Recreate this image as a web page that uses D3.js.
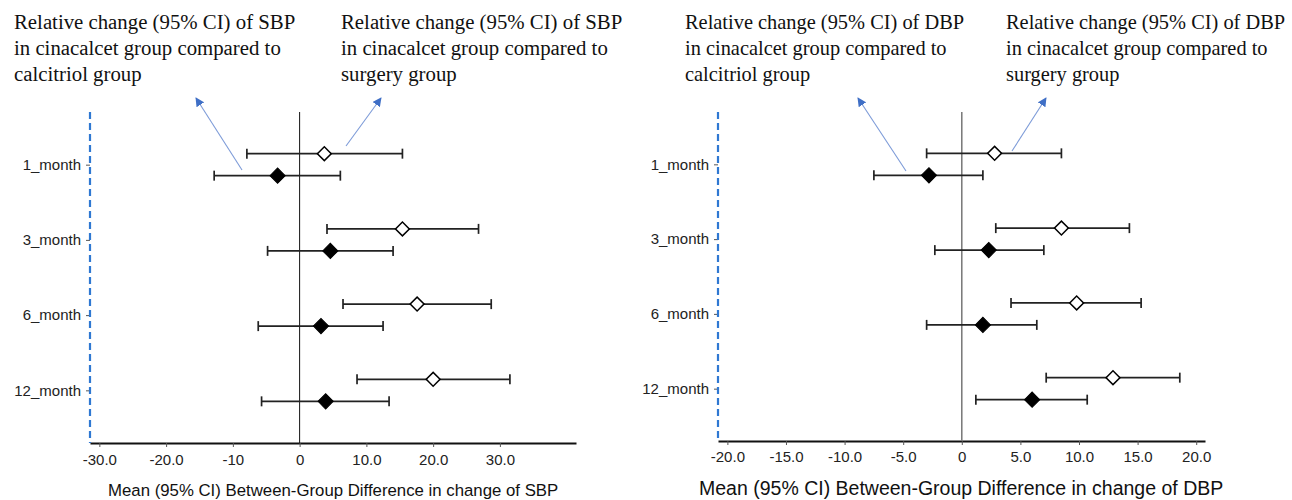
<!DOCTYPE html>
<html>
<head>
<meta charset="utf-8">
<script src="https://cdn.jsdelivr.net/npm/d3@7"></script>
<style>
  html, body { margin: 0; padding: 0; background: #fff; }
  svg { display: block; }
</style>
</head>
<body>
<svg id="chart" width="1292" height="500"></svg>
<script>
// ---------------- DATA ----------------
const categories = ["1_month", "3_month", "6_month", "12_month"];

// SBP: cinacalcet vs calcitriol (filled diamonds)
const sbpCalMean  = [-3.3, 4.6, 3.2, 3.9];
const sbpCalLower = [-12.8, -4.8, -6.2, -5.7];
const sbpCalUpper = [6.1, 14.0, 12.5, 13.4];
// SBP: cinacalcet vs surgery (open diamonds)
const sbpSurMean  = [3.7, 15.4, 17.6, 20.0];
const sbpSurLower = [-7.9, 4.1, 6.5, 8.6];
const sbpSurUpper = [15.4, 26.8, 28.7, 31.5];

// DBP: cinacalcet vs calcitriol (filled diamonds)
const dbpCalMean  = [-2.8, 2.3, 1.8, 6.0];
const dbpCalLower = [-7.5, -2.3, -3.0, 1.2];
const dbpCalUpper = [1.8, 7.0, 6.4, 10.7];
// DBP: cinacalcet vs surgery (open diamonds)
const dbpSurMean  = [2.8, 8.5, 9.8, 12.9];
const dbpSurLower = [-3.0, 2.9, 4.2, 7.2];
const dbpSurUpper = [8.5, 14.3, 15.3, 18.6];

const sbpTickValues = [-30, -20, -10, 0, 10, 20, 30];
const sbpTickLabels = ["-30.0", "-20.0", "-10", "0", "10.0", "20.0", "30.0"];
const dbpTickValues = [-20, -15, -10, -5, 0, 5, 10, 15, 20];
const dbpTickLabels = ["-20.0", "-15.0", "-10.0", "-5.0", "0", "5.0", "10.0", "15.0", "20.0"];

const sbpXTitle = "Mean (95% CI) Between-Group Difference in change of SBP";
const dbpXTitle = "Mean (95% CI) Between-Group Difference in change of DBP";

const sbpNote1 = ["Relative change (95% CI) of SBP", "in cinacalcet group compared to", "calcitriol group"];
const sbpNote2 = ["Relative change (95% CI) of SBP", "in cinacalcet group compared to", "surgery group"];
const dbpNote1 = ["Relative change (95% CI) of DBP", "in cinacalcet group compared to", "calcitriol group"];
const dbpNote2 = ["Relative change (95% CI) of DBP", "in cinacalcet group compared to", "surgery group"];

// ---------------- DRAW ----------------
const svg = d3.select("#chart");
const defs = svg.append("defs");
defs.append("marker")
  .attr("id", "arrowhead")
  .attr("viewBox", "0 0 10 10")
  .attr("refX", 9).attr("refY", 5)
  .attr("markerWidth", 9).attr("markerHeight", 9)
  .attr("markerUnits", "userSpaceOnUse")
  .attr("orient", "auto")
  .append("path")
  .attr("d", "M0,0 L10,5 L0,10 Z")
  .attr("fill", "#3f6fc6");

const sansFont = "'Liberation Sans', Arial, sans-serif";
const serifFont = "'Liberation Serif', 'Times New Roman', serif";

function series(mean, lower, upper) {
  return categories.map((c, i) => ({ cat: c, mean: mean[i], lo: lower[i], hi: upper[i] }));
}

function drawPanel(p) {
  const g = svg.append("g");
  const x = d3.scaleLinear().domain(p.xDomain).range([p.left, p.right]);
  const y = d3.scalePoint().domain(categories).range([p.top, p.bottom]).padding(0.7);

  // x axis
  const xAxis = d3.axisBottom(x)
    .tickValues(p.tickValues)
    .tickFormat((d, i) => p.tickLabels[i])
    .tickSize(4).tickSizeOuter(0).tickPadding(p.tickPad);
  const xa = g.append("g").attr("transform", `translate(0,${p.bottom})`).call(xAxis);
  xa.select(".domain").attr("stroke", "#111").attr("stroke-width", 2.2);
  xa.selectAll(".tick line").attr("stroke", "#555").attr("stroke-width", 1);
  xa.selectAll(".tick text").attr("font-family", sansFont).attr("font-size", 15).attr("fill", "#222");

  // y axis (no domain, dashed blue line instead)
  const yAxis = d3.axisLeft(y).tickSize(4).tickPadding(5);
  const ya = g.append("g").attr("transform", `translate(${p.left},0)`).call(yAxis);
  ya.select(".domain").remove();
  ya.selectAll(".tick line").attr("stroke", "#555").attr("stroke-width", 1);
  ya.selectAll(".tick text").attr("font-family", sansFont).attr("font-size", 15).attr("fill", "#222");

  g.append("line")
    .attr("x1", p.left).attr("x2", p.left)
    .attr("y1", p.top).attr("y2", p.bottom)
    .attr("stroke", "#2f78d2").attr("stroke-width", 2.2)
    .attr("stroke-dasharray", "7,4");

  // zero reference line
  g.append("line")
    .attr("x1", x(0)).attr("x2", x(0))
    .attr("y1", p.top).attr("y2", p.bottom)
    .attr("stroke", p.zeroColor).attr("stroke-width", p.zeroWidth);

  // x title
  g.append("text")
    .attr("x", (p.titleStart))
    .attr("y", p.titleY)
    .attr("font-family", sansFont).attr("font-size", p.titleSize).attr("fill", "#111")
    .text(p.xTitle);

  // annotations
  p.notes.forEach(n => {
    const t = g.append("text").attr("font-family", serifFont).attr("font-size", p.noteSize).attr("fill", "#111");
    n.lines.forEach((line, i) => {
      t.append("tspan").attr("x", n.x).attr("y", 29 + i * 26).text(line);
    });
    g.append("line")
      .attr("x1", n.tail[0]).attr("y1", n.tail[1])
      .attr("x2", n.tip[0]).attr("y2", n.tip[1])
      .attr("stroke", "#7d9bd8").attr("stroke-width", 1.1)
      .attr("marker-end", "url(#arrowhead)");
  });

  // series
  const groups = [
    { data: p.open, offset: -11, filled: false },
    { data: p.filled, offset: 11, filled: true }
  ];
  groups.forEach(s => {
    const sg = g.append("g");
    const rows = sg.selectAll("g.row").data(s.data).join("g").attr("class", "row")
      .attr("transform", d => `translate(0,${y(d.cat) + s.offset})`);
    rows.append("line")
      .attr("x1", d => x(d.lo)).attr("x2", d => x(d.hi))
      .attr("y1", 0).attr("y2", 0)
      .attr("stroke", "#222").attr("stroke-width", 1.7);
    rows.append("line")
      .attr("x1", d => x(d.lo)).attr("x2", d => x(d.lo))
      .attr("y1", -5).attr("y2", 5)
      .attr("stroke", "#222").attr("stroke-width", 1.7);
    rows.append("line")
      .attr("x1", d => x(d.hi)).attr("x2", d => x(d.hi))
      .attr("y1", -5).attr("y2", 5)
      .attr("stroke", "#222").attr("stroke-width", 1.7);
    rows.append("path")
      .attr("d", d3.symbol(d3.symbolSquare, s.filled ? 115 : 96)())
      .attr("transform", d => `translate(${x(d.mean)},0) rotate(45)`)
      .attr("fill", s.filled ? "#000" : "#fff")
      .attr("stroke", "#000")
      .attr("stroke-width", s.filled ? 1 : 1.5);
  });
}

drawPanel({
  xDomain: [-31.4, 41.4], left: 90, right: 576, top: 112, bottom: 443,
  tickValues: sbpTickValues, tickLabels: sbpTickLabels, tickPad: 7,
  zeroColor: "#111", zeroWidth: 1,
  xTitle: sbpXTitle, titleStart: 108, titleY: 495.5, titleSize: 16.8,
  noteSize: 20.8,
  open: series(sbpSurMean, sbpSurLower, sbpSurUpper),
  filled: series(sbpCalMean, sbpCalLower, sbpCalUpper),
  notes: [
    { x: 14, lines: sbpNote1, tail: [242, 170], tip: [196, 98] },
    { x: 341, lines: sbpNote2, tail: [346, 146], tip: [381, 98] }
  ]
});

drawPanel({
  xDomain: [-20.8, 20.75], left: 718, right: 1205, top: 112, bottom: 441,
  tickValues: dbpTickValues, tickLabels: dbpTickLabels, tickPad: 6,
  zeroColor: "#777", zeroWidth: 1.5,
  xTitle: dbpXTitle, titleStart: 699, titleY: 494.5, titleSize: 19.5,
  noteSize: 20.4,
  open: series(dbpSurMean, dbpSurLower, dbpSurUpper),
  filled: series(dbpCalMean, dbpCalLower, dbpCalUpper),
  notes: [
    { x: 685, lines: dbpNote1, tail: [906, 171], tip: [858, 98] },
    { x: 1006, lines: dbpNote2, tail: [1012, 151], tip: [1046, 98] }
  ]
});
</script>
</body>
</html>
